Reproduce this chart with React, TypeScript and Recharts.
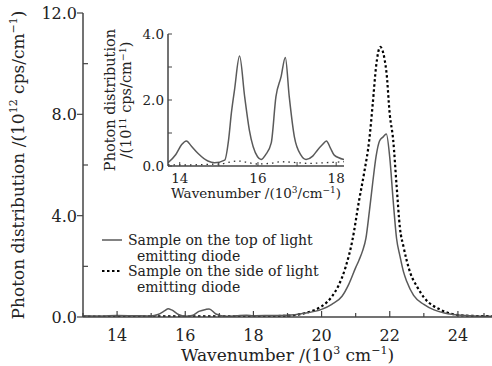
import React from 'react';
import { LineChart, Line, XAxis, YAxis } from 'recharts';

// main panel, 10^12 cps/cm^-1
const topWave = [13.0, 13.5, 14.0, 14.5, 15.0, 15.2, 15.4, 15.5, 15.6, 15.8, 16.0, 16.2, 16.4, 16.6, 16.7, 16.9, 17.2, 17.5, 17.8, 18.0, 18.5, 19.0, 19.5, 20.0, 20.3, 20.6, 20.8, 21.0, 21.1, 21.2, 21.3, 21.4, 21.5, 21.6, 21.7, 21.8, 21.9, 22.0, 22.1, 22.2, 22.3, 22.4, 22.5, 22.7, 23.0, 23.3, 23.6, 24.0, 24.5, 25.0];
const topValue = [0.05, 0.04, 0.06, 0.05, 0.04, 0.1, 0.25, 0.33, 0.28, 0.1, 0.03, 0.06, 0.22, 0.3, 0.32, 0.12, 0.03, 0.05, 0.07, 0.05, 0.06, 0.07, 0.15, 0.3, 0.5, 0.82, 1.3, 1.95, 2.25, 2.6, 3.1, 4.15, 5.3, 6.35, 6.95, 7.1, 7.22, 6.3, 4.6, 3.1, 2.4, 1.8, 1.4, 0.85, 0.5, 0.28, 0.16, 0.08, 0.04, 0.03];

const sideWave = [13.0, 14.0, 15.0, 16.0, 17.0, 18.0, 19.0, 19.5, 19.8, 20.0, 20.3, 20.5, 20.7, 20.9, 21.1, 21.25, 21.4, 21.5, 21.6, 21.72, 21.9, 22.0, 22.1, 22.2, 22.3, 22.4, 22.6, 22.8, 23.0, 23.5, 24.0, 24.5, 25.0];
const sideValue = [0.02, 0.02, 0.03, 0.02, 0.03, 0.03, 0.05, 0.15, 0.28, 0.42, 0.8, 1.25, 1.95, 3.0, 4.6, 5.7, 7.0, 8.4, 9.9, 10.66, 9.7, 8.0, 7.0, 5.2, 3.5, 2.8, 1.75, 1.2, 0.78, 0.28, 0.08, 0.04, 0.03];

// inset, 10^11 cps/cm^-1
const insetTopWave = [13.7, 13.9, 14.05, 14.17, 14.3, 14.47, 14.72, 14.89, 15.15, 15.25, 15.32, 15.4, 15.53, 15.66, 15.78, 15.99, 16.08, 16.2, 16.34, 16.46, 16.59, 16.7, 16.8, 16.93, 17.1, 17.23, 17.4, 17.52, 17.65, 17.75, 17.85, 17.95, 18.2];
const insetTopValue = [0.1, 0.35, 0.65, 0.76, 0.6, 0.38, 0.15, 0.1, 0.18, 0.8, 1.6, 2.3, 3.33, 2.1, 1.09, 0.28, 0.2, 0.35, 0.7, 2.1, 2.7, 3.29, 2.1, 0.89, 0.33, 0.2, 0.3, 0.48, 0.65, 0.76, 0.55, 0.33, 0.2];
const insetSideWave = [13.7, 14.2, 14.7, 15.0, 15.5, 16.0, 16.3, 16.6, 17.0, 17.3, 17.7, 18.2];
const insetSideValue = [0.04, 0.03, 0.05, 0.06, 0.15, 0.06, 0.08, 0.13, 0.1, 0.08, 0.1, 0.13];

const seriesNames = ['Sample on the top of light', 'Sample on the side of light'];

const mainXTicks = [13, 14, 15, 16, 17, 18, 19, 20, 21, 22, 23, 24, 25];
const mainYTicks = [0, 2, 4, 6, 8, 10, 12];
const insetXTicks = [14, 15, 16, 17, 18];
const insetYTicks = [0, 1, 2, 3, 4];

const zip = (xs: number[], ys: number[]) => xs.map((x, i) => ({ x, y: ys[i] }));
const topData = zip(topWave, topValue);
const sideData = zip(sideWave, sideValue);
const insetTopData = zip(insetTopWave, insetTopValue);
const insetSideData = zip(insetSideWave, insetSideValue);

const font = '"DejaVu Serif", serif';
const ink = '#222';
const frame = '#444';
const solidColor = '#5a5a5a';

const MainXTick = (props: any) => {
  const { x, y, payload } = props;
  const v = payload.value;
  const major = v % 2 === 0;
  return (
    <g>
      <line x1={x} x2={x} y1={y} y2={y - (major ? 6 : 4)} stroke={frame} strokeWidth={1.2} />
      {major && <text x={x} y={y + 24} textAnchor="middle" fontSize={16} fontFamily={font} fill={ink}>{v}</text>}
    </g>
  );
};

const MainYTick = (props: any) => {
  const { x, y, payload } = props;
  const v = payload.value;
  const major = v % 4 === 0;
  return (
    <g>
      {major ? (
        <line x1={x - 6} x2={x} y1={y} y2={y} stroke={frame} strokeWidth={1.2} />
      ) : (
        <line x1={x} x2={x + 5} y1={y} y2={y} stroke={frame} strokeWidth={1.2} />
      )}
      {major && <text x={x - 6} y={y + 6} textAnchor="end" fontSize={16} fontFamily={font} fill={ink}>{v.toFixed(1)}</text>}
    </g>
  );
};

const InsetXTick = (props: any) => {
  const { x, y, payload } = props;
  const v = payload.value;
  const major = v % 2 === 0;
  return (
    <g>
      <line x1={x} x2={x} y1={y} y2={y - 4} stroke={frame} strokeWidth={1} />
      {major && <text x={x} y={y + 17} textAnchor="middle" fontSize={13.5} fontFamily={font} fill={ink}>{v}</text>}
    </g>
  );
};

const InsetYTick = (props: any) => {
  const { x, y, payload } = props;
  const v = payload.value;
  const major = v % 2 === 0;
  return (
    <g>
      <line x1={x} x2={x + 4} y1={y} y2={y} stroke={frame} strokeWidth={1} />
      {major && <text x={x - 4} y={y + 5} textAnchor="end" fontSize={13.5} fontFamily={font} fill={ink}>{v.toFixed(1)}</text>}
    </g>
  );
};

const MainXLabel = (props: any) => {
  const { viewBox } = props;
  const cx = viewBox.x + viewBox.width / 2;
  return (
    <text x={cx} y={viewBox.y + 44} textAnchor="middle" fontSize={17} fontFamily={font} fill={ink}>
      Wavenumber /(10<tspan dy={-7} fontSize={11}>3</tspan><tspan dy={7}> cm</tspan>
      <tspan dy={-7} fontSize={11}>−1</tspan><tspan dy={7}>)</tspan>
    </text>
  );
};

const MainYLabel = (props: any) => {
  const { viewBox } = props;
  const cy = viewBox.y + viewBox.height / 2;
  const x = 24;
  return (
    <text x={x} y={cy} transform={`rotate(-90 ${x} ${cy})`} textAnchor="middle" fontSize={17} fontFamily={font} fill={ink}>
      Photon distribution /(10<tspan dy={-7} fontSize={11}>12</tspan><tspan dy={7}> cps/cm</tspan>
      <tspan dy={-7} fontSize={11}>−1</tspan><tspan dy={7}>)</tspan>
    </text>
  );
};

const InsetXLabel = (props: any) => {
  const { viewBox } = props;
  const cx = viewBox.x + viewBox.width / 2;
  return (
    <text x={cx} y={viewBox.y + 32} textAnchor="middle" fontSize={13.5} fontFamily={font} fill={ink}>
      Wavenumber /(10<tspan dy={-5} fontSize={9}>3</tspan><tspan dy={5}>/cm</tspan>
      <tspan dy={-5} fontSize={9}>−1</tspan><tspan dy={5}>)</tspan>
    </text>
  );
};

const InsetYLabel = (props: any) => {
  const { viewBox } = props;
  const cy = viewBox.y + viewBox.height / 2;
  return (
    <g fontSize={14.5} fontFamily={font} fill={ink}>
      <text x={115} y={cy} transform={`rotate(-90 115 ${cy})`} textAnchor="middle">Photon distribution</text>
      <text x={131} y={cy} transform={`rotate(-90 131 ${cy})`} textAnchor="middle">
        /(10<tspan dy={-5} fontSize={9.5}>11</tspan><tspan dy={5}> cps/cm</tspan>
        <tspan dy={-5} fontSize={9.5}>−1</tspan><tspan dy={5}>)</tspan>
      </text>
    </g>
  );
};

const LegendBox = () => (
  <svg width={260} height={72} style={{ display: 'block' }}>
    <g fontSize={14} fontFamily={font} fill={ink}>
      <line x1={2} x2={22} y1={12} y2={12} stroke={solidColor} strokeWidth={1.5} />
      <text x={28} y={17}>{seriesNames[0]}</text>
      <text x={37} y={33}>emitting diode</text>
      <line x1={2} x2={22} y1={43} y2={43} stroke="#000" strokeWidth={2.2} strokeDasharray="2.5 2.5" />
      <text x={28} y={48}>{seriesNames[1]}</text>
      <text x={37} y={64}>emitting diode</text>
    </g>
  </svg>
);

export default function App() {
  return (
    <div style={{ position: 'absolute', left: 0, top: 0, width: 492, height: 366, background: '#fff', overflow: 'hidden' }}>
      <div style={{ position: 'absolute', left: 0, top: 0 }}>
        <LineChart width={492} height={366} margin={{ top: 13, right: 0, left: 0, bottom: 0 }}>
          <XAxis
            dataKey="x"
            type="number"
            domain={[13, 25]}
            ticks={mainXTicks}
            allowDataOverflow
            height={49}
            tickSize={0}
            tickMargin={0}
            tickLine={false}
            tick={<MainXTick />}
            stroke={frame}
            strokeWidth={1.5}
            label={<MainXLabel />}
          />
          <XAxis xAxisId="top" orientation="top" type="number" domain={[13, 25]} height={0} tick={false} tickLine={false} stroke={frame} strokeWidth={2} />
          <YAxis
            type="number"
            domain={[0, 12]}
            ticks={mainYTicks}
            allowDataOverflow
            width={83}
            tickSize={0}
            tickMargin={0}
            tickLine={false}
            tick={<MainYTick />}
            stroke={frame}
            strokeWidth={1.5}
            label={<MainYLabel />}
          />
          <Line data={sideData} dataKey="y" name={seriesNames[1]} type="monotone" stroke="#000" strokeWidth={2.2} strokeDasharray="2.5 2.5" dot={false} isAnimationActive={false} />
          <Line data={topData} dataKey="y" name={seriesNames[0]} type="monotone" stroke={solidColor} strokeWidth={1.5} dot={false} isAnimationActive={false} />
        </LineChart>
      </div>
      <div style={{ position: 'absolute', left: 100, top: 228 }}>
        <LegendBox />
      </div>
      <div style={{ position: 'absolute', left: 0, top: 0 }}>
        <LineChart width={360} height={205} margin={{ top: 34, right: 16, left: 0, bottom: 0 }}>
          <XAxis
            dataKey="x"
            type="number"
            domain={[13.7, 18.2]}
            ticks={insetXTicks}
            allowDataOverflow
            height={39}
            tickSize={0}
            tickMargin={0}
            tickLine={false}
            tick={<InsetXTick />}
            stroke={frame}
            strokeWidth={1.5}
            label={<InsetXLabel />}
          />
          <XAxis xAxisId="top" orientation="top" type="number" domain={[13.7, 18.2]} height={0} tick={false} tickLine={false} stroke={frame} strokeWidth={1.5} />
          <YAxis
            type="number"
            domain={[0, 4]}
            ticks={insetYTicks}
            allowDataOverflow
            width={168}
            tickSize={0}
            tickMargin={0}
            tickLine={false}
            tick={<InsetYTick />}
            stroke={frame}
            strokeWidth={1.5}
            label={<InsetYLabel />}
          />
          <YAxis yAxisId="right" orientation="right" width={0} tick={false} tickLine={false} stroke={frame} strokeWidth={1.5} />
          <Line data={insetSideData} dataKey="y" type="monotone" stroke="#333" strokeWidth={1.3} strokeDasharray="1.5 4" dot={false} isAnimationActive={false} />
          <Line data={insetTopData} dataKey="y" type="monotone" stroke={solidColor} strokeWidth={1.5} dot={false} isAnimationActive={false} />
        </LineChart>
      </div>
    </div>
  );
}
